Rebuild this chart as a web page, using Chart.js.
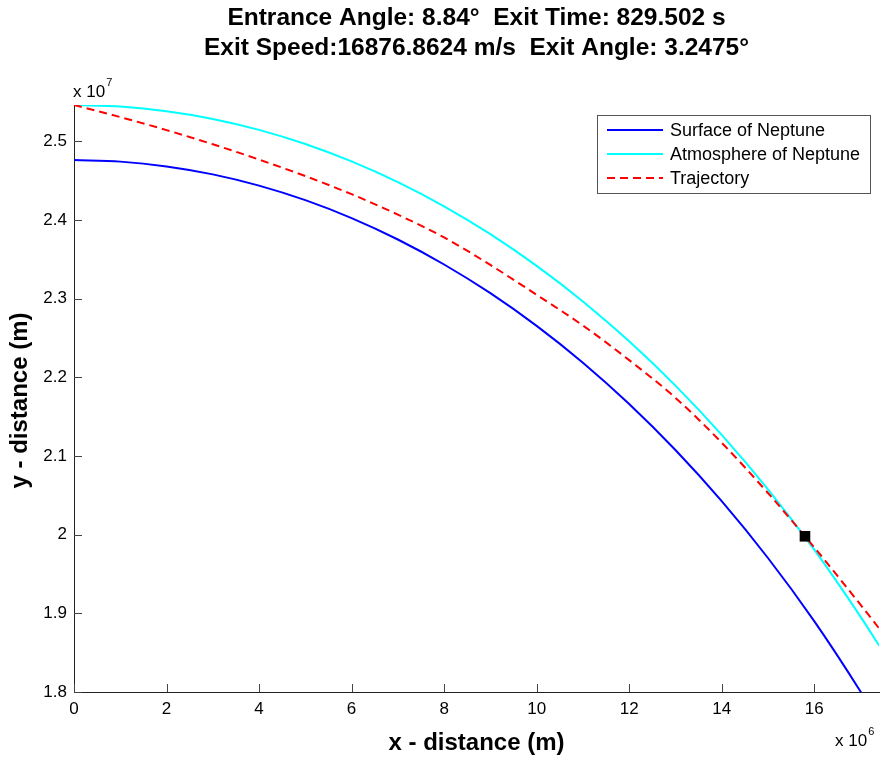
<!DOCTYPE html>
<html>
<head>
<meta charset="utf-8">
<title>Trajectory</title>
<script src="https://cdn.jsdelivr.net/npm/chart.js@4.4.1/dist/chart.umd.min.js"></script>
<style>
  html, body { margin: 0; padding: 0; background: #fff; overflow: hidden; }
  #box { width: 883px; height: 761px; position: relative; }
  canvas { display: block; }
</style>
</head>
<body>
<div id="box"><canvas id="chart"></canvas></div>
<script>
// x in units of 10^6 m, y in units of 10^7 m (same as the axis multipliers)
const titleLines = [
  "Entrance Angle: 8.84°  Exit Time: 829.502 s",
  "Exit Speed:16876.8624 m/s  Exit Angle: 3.2475°",
];
const xTicks = [0, 2, 4, 6, 8, 10, 12, 14, 16];
const yTicks = [1.8, 1.9, 2.0, 2.1, 2.2, 2.3, 2.4, 2.5];

const planetX = [0, 1, 2, 3, 4, 5, 6, 7, 8, 9, 10, 11, 12, 13, 14, 15, 16, 17, 17.4];
const surfaceY = [2.4764, 2.4744, 2.4683, 2.4582, 2.4439, 2.4254, 2.4026, 2.3754, 2.3436, 2.3071, 2.2655, 2.2187, 2.1662, 2.1077, 2.0427, 1.9704, 1.8901, 1.8007, 1.7621];
const atmosphereY = [2.5464, 2.5444, 2.5385, 2.5287, 2.5148, 2.4968, 2.4747, 2.4483, 2.4175, 2.3821, 2.3418, 2.2966, 2.2459, 2.1896, 2.1270, 2.0577, 1.9810, 1.8958, 1.8592];

const trajectoryX = [0, 1, 2, 3, 4, 5, 6, 7, 8, 9, 10, 11, 12, 13, 14, 15, 15.8, 16, 17, 17.4];
const trajectoryY = [2.5464, 2.531, 2.5145, 2.4965, 2.477, 2.456, 2.433, 2.407, 2.378, 2.343, 2.305, 2.266, 2.222, 2.174, 2.117, 2.053, 1.998, 1.984, 1.911, 1.881];

const exitPoint = { x: 15.8, y: 1.998 };

const FONT = "'Liberation Sans', Arial, sans-serif";

function toPoints(xs, ys) {
  return xs.map((x, i) => ({ x, y: ys[i] }));
}

function formatTick(value) {
  return String(Math.round(value * 10) / 10);
}

// "x 10" with a small exponent, baseline at y
function drawMultiplier(ctx, exponent, x, y) {
  ctx.font = `17px ${FONT}`;
  ctx.fillText("x 10", x, y);
  const w = ctx.measureText("x 10").width;
  ctx.font = `11px ${FONT}`;
  ctx.fillText(exponent, x + w + 1, y - 11);
}

// title, axis titles and the exponent labels
const textPlugin = {
  id: "texts",
  afterDraw(chart) {
    const { ctx, chartArea: area } = chart;
    const midX = (area.left + area.right) / 2;
    ctx.save();
    ctx.fillStyle = "#000";
    ctx.textAlign = "center";
    ctx.textBaseline = "middle";
    ctx.font = `bold 24.5px ${FONT}`;
    titleLines.forEach((line, i) => ctx.fillText(line, midX, 18 + i * 30));

    ctx.font = `bold 24px ${FONT}`;
    ctx.fillText("x - distance (m)", midX, area.bottom + 51);
    ctx.save();
    ctx.translate(20, (area.top + area.bottom) / 2 + 2);
    ctx.rotate(-Math.PI / 2);
    ctx.fillText("y - distance (m)", 0, 0);
    ctx.restore();

    ctx.textAlign = "left";
    ctx.textBaseline = "alphabetic";
    drawMultiplier(ctx, "7", area.left - 1, area.top - 8);
    drawMultiplier(ctx, "6", area.right - 44, area.bottom + 54);
    ctx.restore();
  },
};

// MATLAB style ticks pointing into the plot
const innerTicksPlugin = {
  id: "innerTicks",
  beforeDatasetsDraw(chart) {
    const { ctx, chartArea: area, scales } = chart;
    ctx.save();
    ctx.strokeStyle = "#444";
    ctx.lineWidth = 1;
    ctx.beginPath();
    xTicks.forEach((v) => {
      const px = Math.round(scales.x.getPixelForValue(v)) + 0.5;
      ctx.moveTo(px, area.bottom);
      ctx.lineTo(px, area.bottom - 8);
    });
    yTicks.forEach((v) => {
      const py = Math.round(scales.y.getPixelForValue(v)) + 0.5;
      ctx.moveTo(area.left, py);
      ctx.lineTo(area.left + 8, py);
    });
    ctx.stroke();
    ctx.restore();
  },
};

const legendPlugin = {
  id: "legendBox",
  afterDraw(chart) {
    const { ctx, chartArea: area } = chart;
    const entries = chart.data.datasets.filter((d) => d.label).sort((a, b) => b.order - a.order);
    const right = area.right - 8;
    const width = 274;
    const left = right - width;
    const top = area.top + 10;
    const rowH = 24;
    const height = 79;
    ctx.save();
    ctx.fillStyle = "#fff";
    ctx.fillRect(left, top, width, height);
    ctx.strokeStyle = "#555";
    ctx.lineWidth = 1;
    ctx.strokeRect(Math.round(left) + 0.5, Math.round(top) + 0.5, width - 1, height - 1);
    ctx.font = `18px ${FONT}`;
    ctx.textBaseline = "middle";
    entries.forEach((d, i) => {
      const y = top + 15 + i * rowH;
      ctx.strokeStyle = d.borderColor;
      ctx.lineWidth = d.borderWidth;
      ctx.setLineDash(d.borderDash || []);
      ctx.beginPath();
      ctx.moveTo(left + 10, y);
      ctx.lineTo(left + 66, y);
      ctx.stroke();
      ctx.setLineDash([]);
      ctx.fillStyle = "#000";
      ctx.fillText(d.label, left + 73, y + 1);
    });
    ctx.restore();
  },
};

const lineBase = {
  showLine: true,
  pointRadius: 0,
  borderWidth: 2,
  cubicInterpolationMode: "monotone",
  clip: 0,
};

// fixed axis boxes, no extra label overflow padding
function fitX(scale) {
  scale.height = 69;
  scale.paddingLeft = 0;
  scale.paddingRight = 0;
}

function fitY(scale) {
  scale.width = 74;
  scale.paddingTop = 0;
  scale.paddingBottom = 0;
}

new Chart(document.querySelector("#chart"), {
  type: "scatter",
  data: {
    datasets: [
      { ...lineBase, label: "Surface of Neptune", data: toPoints(planetX, surfaceY), borderColor: "#0000ff", order: 3 },
      { ...lineBase, label: "Atmosphere of Neptune", data: toPoints(planetX, atmosphereY), borderColor: "#00ffff", order: 2 },
      { ...lineBase, label: "Trajectory", data: toPoints(trajectoryX, trajectoryY), borderColor: "#ff0000", borderDash: [8, 5], order: 1 },
      { data: [exitPoint], pointStyle: "rect", pointRadius: 7.5, backgroundColor: "#000", borderColor: "#000", borderWidth: 0, order: 0 },
    ],
  },
  options: {
    responsive: true,
    maintainAspectRatio: false,
    animation: false,
    layout: { autoPadding: false, padding: { top: 105, right: 4, left: 0, bottom: 0 } },
    plugins: { legend: { display: false }, title: { display: false }, tooltip: { enabled: false } },
    scales: {
      x: {
        type: "linear",
        min: 0,
        max: 17.4,
        afterFit: fitX,
        afterBuildTicks: (s) => { s.ticks = xTicks.map((value) => ({ value })); },
        grid: { display: false, drawTicks: false },
        border: { display: true, color: "#222", width: 1 },
        ticks: { color: "#000", font: { family: FONT, size: 17 }, padding: 7, maxRotation: 0, autoSkip: false, callback: formatTick },
      },
      y: {
        type: "linear",
        min: 1.8,
        max: 2.5464,
        afterFit: fitY,
        afterBuildTicks: (s) => { s.ticks = yTicks.map((value) => ({ value })); },
        grid: { display: false, drawTicks: false },
        border: { display: true, color: "#222", width: 1 },
        ticks: { color: "#000", font: { family: FONT, size: 17 }, padding: 7, autoSkip: false, callback: formatTick },
      },
    },
  },
  plugins: [innerTicksPlugin, textPlugin, legendPlugin],
});
</script>
</body>
</html>
